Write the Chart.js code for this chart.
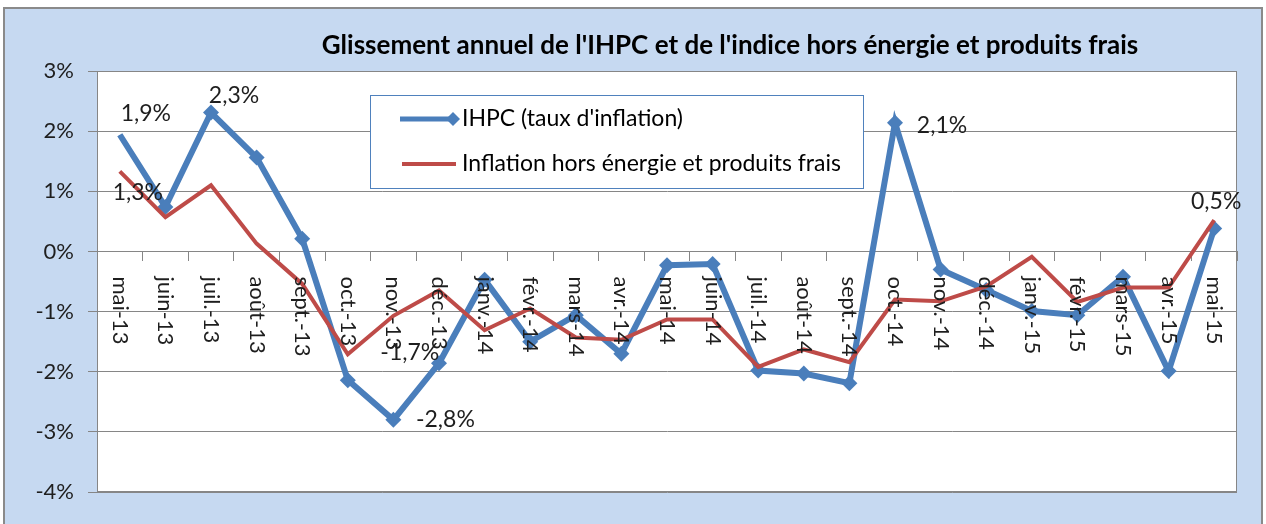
<!DOCTYPE html>
<html>
<head>
<meta charset="utf-8">
<script src="https://cdn.jsdelivr.net/npm/chart.js@4.4.1/dist/chart.umd.min.js"></script>
<style>
    html, body { margin: 0; padding: 0; background: #fff; }
    #wrap { width: 1266px; height: 524px; }
</style>
</head>
<body>
<div id="wrap"><canvas id="inflation-chart" width="1266" height="524"></canvas></div>
<script>
const months = ['mai-13', 'juin-13', 'juil.-13', 'août-13', 'sept.-13', 'oct.-13', 'nov.-13', 'déc.-13',
    'janv.-14', 'févr.-14', 'mars-14', 'avr.-14', 'mai-14', 'juin-14', 'juil.-14', 'août-14', 'sept.-14',
    'oct.-14', 'nov.-14', 'déc.-14', 'janv.-15', 'févr.-15', 'mars-15', 'avr.-15', 'mai-15'];

// IHPC (taux d'inflation), in %
const ihpc = [1.94, 0.74, 2.31, 1.56, 0.21, -2.14, -2.80, -1.86, -0.47, -1.50, -1.06, -1.70, -0.23,
    -0.21, -1.98, -2.03, -2.19, 2.14, -0.30, -0.64, -0.99, -1.06, -0.42, -1.99, 0.38];

// Inflation hors énergie et produits frais, in %
const coreInflation = [1.33, 0.57, 1.10, 0.13, -0.54, -1.71, -1.07, -0.65, -1.31, -0.95, -1.43, -1.47, -1.13,
    -1.13, -1.92, -1.63, -1.84, -0.80, -0.83, -0.58, -0.09, -0.84, -0.60, -0.60, 0.52];

const yMin = -4;
const yMax = 3;
const yStep = 1;

const titleText = "Glissement annuel de l'IHPC et de l'indice hors énergie et produits frais";
const seriesNames = ["IHPC (taux d'inflation)", 'Inflation hors énergie et produits frais'];

// data labels shown on the chart: series (0 = IHPC, 1 = hors énergie), point index, label offset
const dataLabels = [
    { series: 0, index: 0, dx: 26, dy: -21 },
    { series: 0, index: 2, dx: 23, dy: -17 },
    { series: 1, index: 0, dx: 18, dy: 21 },
    { series: 1, index: 5, dx: 62, dy: -2 },
    { series: 0, index: 6, dx: 52, dy: 0 },
    { series: 0, index: 17, dx: 47, dy: 3 },
    { series: 1, index: 24, dx: 2, dy: -19 }
];

const BLUE = '#4A7EBB';
const RED = '#BE4B48';
const GRID = '#868686';
const FONT = 'Lato, "Open Sans", sans-serif';

function formatPct(v) {
    return v.toFixed(1).replace('.', ',') + '%';
}

const framePlugin = {
    id: 'frame',
    beforeDraw(chart) {
        const ctx = chart.ctx;
        const area = chart.chartArea;
        ctx.save();
        ctx.fillStyle = '#fff';
        ctx.fillRect(0, 0, chart.width, chart.height);
        ctx.fillStyle = '#C6D9F1';
        ctx.fillRect(4, 8, 1258, 520);
        ctx.strokeStyle = '#8a8a8a';
        ctx.lineWidth = 2;
        ctx.strokeRect(4, 8, 1258, 520);
        ctx.fillStyle = '#fff';
        ctx.fillRect(area.left, area.top, area.right - area.left, area.bottom - area.top);
        ctx.restore();
    },
    afterDatasetsDraw(chart) {
        const ctx = chart.ctx;
        const area = chart.chartArea;
        const xScale = chart.scales.x;
        const yScale = chart.scales.y;
        ctx.save();

        // plot border
        ctx.strokeStyle = GRID;
        ctx.lineWidth = 1;
        ctx.strokeRect(area.left + 0.5, area.top + 0.5, area.right - area.left - 1, area.bottom - area.top - 1);

        // category labels, reading top to bottom
        ctx.fillStyle = '#1e1e1e';
        ctx.font = '22px ' + FONT;
        ctx.textAlign = 'left';
        ctx.textBaseline = 'middle';
        const labelTop = yScale.getPixelForValue(0) + 25;
        months.forEach((m, i) => {
            ctx.save();
            ctx.translate(xScale.getPixelForValue(i), labelTop);
            ctx.rotate(Math.PI / 2);
            ctx.fillText(m, 0, 0);
            ctx.restore();
        });

        // data labels
        const series = [ihpc, coreInflation];
        ctx.font = '23px ' + FONT;
        ctx.textAlign = 'center';
        dataLabels.forEach(l => {
            const v = series[l.series][l.index];
            const x = xScale.getPixelForValue(l.index) + l.dx;
            const y = yScale.getPixelForValue(v) + l.dy;
            ctx.fillText(formatPct(v), x, y);
        });

        // legend box
        ctx.fillStyle = '#fff';
        ctx.fillRect(370, 95, 493, 93);
        ctx.strokeStyle = '#4F81BD';
        ctx.lineWidth = 1;
        ctx.strokeRect(370.5, 95.5, 493, 93);

        ctx.strokeStyle = BLUE;
        ctx.lineWidth = 5;
        ctx.beginPath();
        ctx.moveTo(400, 119);
        ctx.lineTo(452, 119);
        ctx.stroke();
        ctx.fillStyle = BLUE;
        ctx.beginPath();
        ctx.moveTo(453, 112);
        ctx.lineTo(460, 119);
        ctx.lineTo(453, 126);
        ctx.lineTo(446, 119);
        ctx.closePath();
        ctx.fill();

        ctx.strokeStyle = RED;
        ctx.lineWidth = 4;
        ctx.beginPath();
        ctx.moveTo(402, 164);
        ctx.lineTo(456, 164);
        ctx.stroke();

        ctx.fillStyle = '#000';
        ctx.font = '23px ' + FONT;
        ctx.textAlign = 'left';
        ctx.fillText(seriesNames[0], 462, 119);
        ctx.fillText(seriesNames[1], 462, 164);

        // title
        ctx.font = 'bold 26px ' + FONT;
        ctx.textAlign = 'center';
        ctx.fillStyle = '#000';
        ctx.fillText(titleText, 730, 46);

        ctx.restore();
    }
};

document.addEventListener('DOMContentLoaded', function() {
    const ctx = document.getElementById('inflation-chart').getContext('2d');

    new Chart(ctx, {
        type: 'line',
        data: {
            labels: months,
            datasets: [{
                label: seriesNames[0],
                data: ihpc,
                borderColor: BLUE,
                backgroundColor: BLUE,
                borderWidth: 6,
                pointStyle: 'rectRot',
                pointRadius: c => (c.dataIndex === 0 ? 0 : 8),
                pointBorderWidth: 0,
                pointBackgroundColor: BLUE,
                tension: 0,
                order: 1
            }, {
                label: seriesNames[1],
                data: coreInflation,
                borderColor: RED,
                backgroundColor: RED,
                borderWidth: 4,
                pointRadius: 0,
                tension: 0,
                order: 0
            }]
        },
        options: {
            responsive: false,
            animation: false,
            devicePixelRatio: 1,
            layout: {
                padding: { left: 10, top: 71, right: 29, bottom: 32 }
            },
            plugins: {
                legend: { display: false },
                title: { display: false },
                tooltip: { enabled: false }
            },
            scales: {
                x: {
                    position: { y: 0 },
                    offset: true,
                    ticks: { display: false },
                    grid: {
                        offset: true,
                        drawOnChartArea: false,
                        drawTicks: true,
                        tickLength: 9,
                        color: GRID
                    },
                    border: { color: GRID }
                },
                y: {
                    min: yMin,
                    max: yMax,
                    ticks: {
                        stepSize: yStep,
                        callback: v => v + '%',
                        color: '#1e1e1e',
                        font: { family: FONT, size: 22 },
                        padding: 14
                    },
                    grid: {
                        color: GRID,
                        tickLength: 9
                    },
                    border: { color: GRID },
                    afterFit: s => { s.width = 87; }
                }
            }
        },
        plugins: [framePlugin]
    });
});
</script>
</body>
</html>
